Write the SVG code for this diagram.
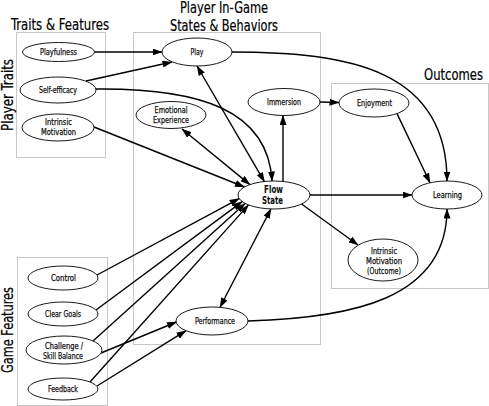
<svg xmlns="http://www.w3.org/2000/svg" width="489" height="406" viewBox="0 0 489 406">
<style>
.box{fill:none;stroke:#c8c8c8;stroke-width:1}
.node ellipse{fill:#fff;stroke:#000;stroke-width:0.9}
.lbl{font-family:"DejaVu Sans Condensed","DejaVu Sans",sans-serif;font-size:9px;fill:#111;stroke:#111;stroke-width:0.25;text-anchor:middle}
.big{font-size:10px;font-weight:bold;stroke-width:0.1}
.title{font-family:"DejaVu Sans Condensed","DejaVu Sans",sans-serif;font-size:15px;fill:#000;stroke:#000;stroke-width:0.2}
.edges path{fill:none;stroke:#000;stroke-width:1.4}
.one{marker-end:url(#ah)}
.two{marker-start:url(#ah);marker-end:url(#ah)}
</style>
<defs>
<marker id="ah" viewBox="0 0 10 7" refX="9.5" refY="3.5" markerWidth="10" markerHeight="7" markerUnits="userSpaceOnUse" orient="auto-start-reverse">
<path d="M0,0 L10,3.5 L0,7 z" fill="#000"/>
</marker>
</defs>
<rect width="489" height="406" fill="#fff"/>
<g id="groups">
<rect class="box" x="16.5" y="32.5" width="89" height="125"/>
<rect class="box" x="133.5" y="32.5" width="187" height="312"/>
<rect class="box" x="331.5" y="83.5" width="157" height="205"/>
<rect class="box" x="17.5" y="257.5" width="90" height="148"/>
<text class="title" x="11" y="29.5" textLength="98" lengthAdjust="spacingAndGlyphs">Traits &amp; Features</text>
<text class="title" x="180" y="13" textLength="88" lengthAdjust="spacingAndGlyphs">Player In-Game</text>
<text class="title" x="170" y="30.5" textLength="108" lengthAdjust="spacingAndGlyphs">States &amp; Behaviors</text>
<text class="title" x="424" y="80" textLength="59" lengthAdjust="spacingAndGlyphs">Outcomes</text>
<text class="title" transform="translate(13,131) rotate(-90)" textLength="72" lengthAdjust="spacingAndGlyphs">Player Traits</text>
<text class="title" transform="translate(13,373) rotate(-90)" textLength="86" lengthAdjust="spacingAndGlyphs">Game Features</text>
</g>
<g class="edges" id="connectors">
<path class="one" d="M94.5,52 L162,52"/>
<path class="one" d="M86,81 L172,62"/>
<path class="one" d="M96,89 C200,88 268,110 272,181"/>
<path class="one" d="M94,127 L244.5,187"/>
<path class="two" d="M182,129 L249.9,184.6"/>
<path class="two" d="M197,66 L264.5,181.8"/>
<path class="one" d="M232,52 C350,52 447,70 447,181"/>
<path class="one" d="M283,181.4 L283,115.5"/>
<path class="one" d="M320,102 L339,102.5"/>
<path class="one" d="M397,113.6 L430,182.8"/>
<path class="one" d="M310,195 L412,195"/>
<path class="one" d="M301.6,204 L358,245"/>
<path class="one" d="M248,321 C350,318 447,300 447,209"/>
<path class="two" d="M220,307.3 L271,208.8"/>
<path class="one" d="M97,275 L239.2,198.6"/>
<path class="one" d="M96,310 L242.2,201.6"/>
<path class="one" d="M93,341 L245.2,203.4"/>
<path class="one" d="M90,382 L248.5,204.9"/>
<path class="one" d="M101,353 L176.5,322"/>
<path class="one" d="M97,386 L186,330.7"/>
</g>
<g class="node" id="playfulness"><ellipse cx="58.5" cy="52" rx="36" ry="9.5"/><text class="lbl" x="58.5" y="55" textLength="37" lengthAdjust="spacingAndGlyphs">Playfulness</text></g>
<g class="node" id="play"><ellipse cx="197" cy="52" rx="35" ry="14"/><text class="lbl" x="197" y="55" textLength="13" lengthAdjust="spacingAndGlyphs">Play</text></g>
<g class="node" id="self-efficacy"><ellipse cx="58" cy="90" rx="38" ry="13"/><text class="lbl" x="58" y="93" textLength="38" lengthAdjust="spacingAndGlyphs">Self-efficacy</text></g>
<g class="node" id="intrinsic-motivation"><ellipse cx="58" cy="127.5" rx="36" ry="13.5"/><text class="lbl" x="58.5" y="125" textLength="27" lengthAdjust="spacingAndGlyphs">Intrinsic</text><text class="lbl" x="58.5" y="135" textLength="35" lengthAdjust="spacingAndGlyphs">Motivation</text></g>
<g class="node" id="emotional-experience"><ellipse cx="171" cy="115" rx="35" ry="13.5"/><text class="lbl" x="171" y="113" textLength="33" lengthAdjust="spacingAndGlyphs">Emotional</text><text class="lbl" x="171" y="123" textLength="36" lengthAdjust="spacingAndGlyphs">Experience</text></g>
<g class="node" id="immersion"><ellipse cx="284" cy="102" rx="36" ry="13.5"/><text class="lbl" x="284" y="105" textLength="34" lengthAdjust="spacingAndGlyphs">Immersion</text></g>
<g class="node" id="enjoyment"><ellipse cx="374" cy="103" rx="35" ry="14"/><text class="lbl" x="374.5" y="106" textLength="35" lengthAdjust="spacingAndGlyphs">Enjoyment</text></g>
<g class="node" id="flow-state"><ellipse cx="274" cy="195" rx="36" ry="14"/><text class="lbl big" x="273.5" y="192.5" textLength="19" lengthAdjust="spacingAndGlyphs">Flow</text><text class="lbl big" x="272.5" y="203.5" textLength="21" lengthAdjust="spacingAndGlyphs">State</text></g>
<g class="node" id="learning"><ellipse cx="447" cy="195" rx="35" ry="14"/><text class="lbl" x="447.5" y="198" textLength="29" lengthAdjust="spacingAndGlyphs">Learning</text></g>
<g class="node" id="intrinsic-motivation-outcome"><ellipse cx="383" cy="260" rx="35" ry="21"/><text class="lbl" x="384" y="254" textLength="26" lengthAdjust="spacingAndGlyphs">Intrinsic</text><text class="lbl" x="384" y="264" textLength="36" lengthAdjust="spacingAndGlyphs">Motivation</text><text class="lbl" x="384" y="274" textLength="34" lengthAdjust="spacingAndGlyphs">(Outcome)</text></g>
<g class="node" id="control"><ellipse cx="63" cy="278" rx="35" ry="12"/><text class="lbl" x="63.5" y="281" textLength="25" lengthAdjust="spacingAndGlyphs">Control</text></g>
<g class="node" id="clear-goals"><ellipse cx="63" cy="314" rx="35" ry="12"/><text class="lbl" x="63" y="317" textLength="36" lengthAdjust="spacingAndGlyphs">Clear Goals</text></g>
<g class="node" id="challenge"><ellipse cx="64" cy="350" rx="38" ry="14"/><text class="lbl" x="64" y="349" textLength="38" lengthAdjust="spacingAndGlyphs">Challenge /</text><text class="lbl" x="63" y="359" textLength="40" lengthAdjust="spacingAndGlyphs">Skill Balance</text></g>
<g class="node" id="feedback"><ellipse cx="63" cy="389" rx="35" ry="11"/><text class="lbl" x="63" y="392" textLength="30" lengthAdjust="spacingAndGlyphs">Feedback</text></g>
<g class="node" id="performance"><ellipse cx="212" cy="321" rx="36" ry="14"/><text class="lbl" x="215" y="324" textLength="40" lengthAdjust="spacingAndGlyphs">Performance</text></g>
</svg>
